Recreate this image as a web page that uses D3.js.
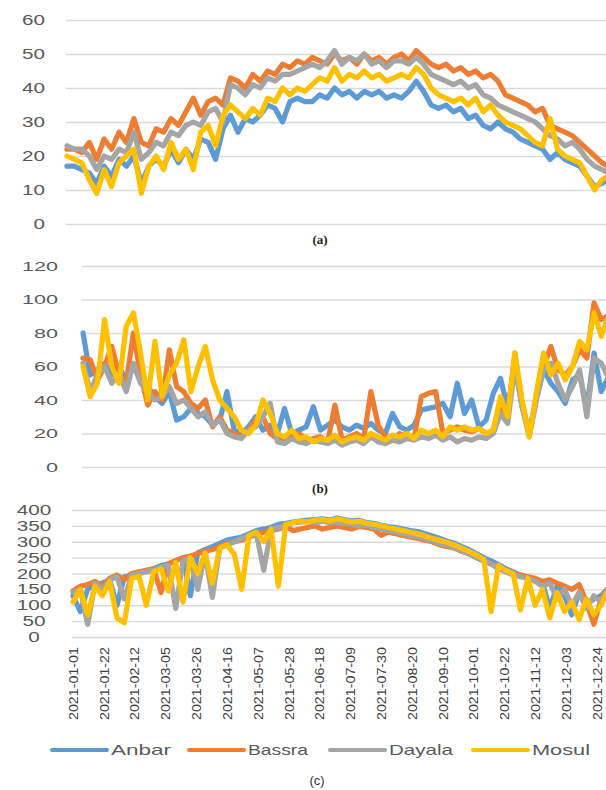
<!DOCTYPE html>
<html><head><meta charset="utf-8">
<script src="https://cdn.jsdelivr.net/npm/d3@7"></script>
<style>body{margin:0;background:#fff;}svg{display:block;}</style>
</head><body>
<svg id="chart" width="606" height="790"></svg>
<script>
const seriesNames = ["Anbar","Bassra","Dayala","Mosul"];
const colors = ["#5B9BD5","#ED7D31","#A5A5A5","#FFC000"];
const sampleDays = d3.range(0,365,5).concat([364]);

// Panel (a)
const aAnbar = [17,17,16,15,12,17,14,19,17,20, 12,17,19,17,22,18,22,19,25,24, 19,28,32,27,31,30,32,35,34,30, 36,37,36,36,38,37,40,38,39,37, 39,38,39,37,38,37,39,42,39,35, 34,35,33,34,31,32,29,28,30,28, 27,25,24,23,22,19,21,19,18,17, 14,11,12,13];
const aBassra = [22,22,21,24,19,25,22,27,24,31, 24,23,28,27,31,29,33,37,32,36, 37,35,43,42,40,44,42,45,44,47, 46,48,47,49,48,47,50,48,49,47, 50,48,49,47,49,50,48,51,49,47, 46,47,45,46,44,45,43,44,42,38, 37,36,35,33,34,29,28,27,26,24, 22,20,18,17];
const aDayala = [23,22,22,20,16,20,19,22,21,27, 19,21,24,23,27,26,29,30,29,33, 34,30,41,40,38,41,40,43,42,44, 44,45,46,47,46,48,51,47,49,48, 50,47,48,46,48,48,47,49,47,44, 43,42,41,42,40,41,38,37,35,34, 33,32,31,30,28,26,25,23,24,22, 19,17,16,15];
const aMosul = [20,19,18,13,9,16,11,18,20,22, 9,17,20,16,24,19,22,16,27,29, 23,32,35,33,31,34,32,37,36,40, 38,40,39,41,43,42,46,42,44,43, 45,43,44,42,43,44,43,46,44,40, 38,37,36,37,35,37,33,35,32,30, 29,28,26,24,23,31,22,20,19,18, 14,10,13,14];
const aTicks = [0,10,20,30,40,50,60];

// Panel (b)
const bAnbar = [80,55,58,62,55,60,52,60,52,48, 42,38,45,28,30,35,32,30,25,28, 45,22,20,24,30,22,25,20,35,20, 22,24,36,22,25,28,24,22,25,23, 26,22,20,32,24,22,25,34,35,36, 38,30,50,32,40,24,28,44,53,35, 62,36,20,42,58,50,45,38,52,55, 35,68,45,52];
const bBassra = [65,64,52,60,72,55,50,80,55,37, 45,40,70,48,45,38,35,40,24,30, 22,20,18,22,28,30,20,17,16,18, 20,16,17,18,15,37,16,18,20,17, 45,25,18,16,20,18,17,42,44,45, 20,22,24,22,21,23,20,22,36,30, 68,38,20,42,60,72,58,55,60,70, 65,98,88,90];
const bDayala = [62,45,55,60,50,56,45,62,50,45, 40,42,48,38,40,35,30,33,25,28, 20,18,17,22,24,30,38,15,14,17, 15,14,16,15,14,16,13,15,16,14, 18,15,14,16,15,17,16,18,17,19, 16,18,15,17,16,18,17,20,32,26, 60,36,18,40,58,62,50,40,48,58, 30,65,62,55];
const bMosul = [60,42,50,88,60,50,84,92,68,40, 75,42,55,62,76,45,60,72,52,40, 35,30,22,20,25,40,32,20,18,22, 17,18,15,17,16,19,15,17,18,16, 20,18,16,19,18,20,17,22,20,22, 18,24,22,24,22,23,20,22,42,30, 68,40,18,45,68,55,62,52,60,75, 70,92,78,88];
const bTicks = [0,20,40,60,80,100,120];

// Panel (c)
const cAnbar = [130,80,150,165,170,180,100,190,195,200, 208,215,225,230,240,250,130,265,275,285, 295,305,310,315,325,335,340,345,355,358, 362,365,368,370,372,368,375,370,365,368, 360,358,352,348,345,340,335,332,325,318, 310,302,295,285,275,262,250,240,228,215, 205,195,188,180,170,90,160,130,70,140, 100,120,130,150];
const cBassra = [145,160,165,175,160,185,195,180,200,205, 210,215,140,230,240,250,255,262,270,275, 285,295,300,305,315,322,330,335,340,348, 335,340,345,350,340,345,350,345,340,348, 345,340,320,330,325,320,315,310,305,300, 290,285,280,270,262,250,240,230,220,210, 200,195,190,185,175,180,170,160,150,165, 110,40,120,150];
const cDayala = [140,150,40,170,150,180,190,120,195,200, 205,210,220,225,90,240,250,150,265,125, 280,290,300,310,320,325,210,340,345,350, 360,362,365,360,365,360,362,358,355,350, 352,345,340,335,332,325,320,315,310,302, 295,290,280,272,262,250,240,230,215,205, 195,190,185,175,160,170,120,150,100,140, 90,130,110,150];
const cMosul = [110,150,70,160,130,175,60,45,185,190, 100,205,215,145,235,110,250,200,265,170, 280,290,260,150,320,330,300,340,160,355, 360,365,362,368,370,365,372,368,362,365, 358,355,350,345,340,335,330,325,318,310, 305,298,290,280,270,258,245,80,225,210, 200,85,185,100,150,60,140,80,110,55, 120,70,100,140];
const cTicks = [0,50,100,150,200,250,300,350,400];
const dateLabels = ["2021-01-01","2021-01-22","2021-02-12","2021-03-05","2021-03-26","2021-04-16","2021-05-07","2021-05-28","2021-06-18","2021-07-09","2021-07-30","2021-08-20","2021-09-10","2021-10-01","2021-10-22","2021-11-12","2021-12-03","2021-12-24"];
const panelLabels = ["(a)","(b)","(c)"];

const svg = d3.select("#chart");
svg.append("rect").attr("width",606).attr("height",790).attr("fill","#fff");
const defs = svg.append("defs");
defs.append("filter").attr("id","soft").append("feGaussianBlur").attr("stdDeviation",0.5);
const start = new Date(2021,0,1), end = new Date(2021,11,31);
const parse = d3.timeParse("%Y-%m-%d");

const panels = [
  {series:[aAnbar,aBassra,aDayala,aMosul], ticks:aTicks, yr:[224,20], xr:[67,608], gx:66, lab:{anchor:"end", x:45, w:11.5, fs:14}},
  {series:[bAnbar,bBassra,bDayala,bMosul], ticks:bTicks, yr:[467,266], xr:[83,607], gx:82, lab:{anchor:"end", x:58, w:12, fs:13}},
  {series:[cAnbar,cBassra,cDayala,cMosul], ticks:cTicks, yr:[637,510], xr:[73,607], gx:72, lab:{anchor:"middle", x:34, w:11.5, fs:14}}
];

panels.forEach((p,pi)=>{
  const x = d3.scaleTime().domain([start,end]).range(p.xr);
  const y = d3.scaleLinear().domain([0,d3.max(p.ticks)]).range(p.yr);
  const g = svg.append("g");
  const axis = d3.axisLeft(y).tickValues(p.ticks).tickSize(-(606-p.gx)).tickFormat("");
  const ga = g.append("g").attr("transform",`translate(${p.gx},0)`).call(axis);
  ga.select(".domain").remove();
  ga.selectAll(".tick line").attr("stroke","#d9d9d9").attr("stroke-width",1.3);
  g.selectAll("text.yl").data(p.ticks).join("text").attr("class","yl")
    .attr("x",p.lab.x).attr("y",d=>y(d)).attr("dy","0.36em")
    .attr("text-anchor",p.lab.anchor)
    .attr("font-family","'Liberation Sans', Arial, sans-serif").attr("font-size",p.lab.fs)
    .attr("fill","#595959")
    .attr("textLength",d=>String(d).length*p.lab.w).attr("lengthAdjust","spacingAndGlyphs")
    .text(d=>d);
  const clipId = "clip"+pi;
  defs.append("clipPath").attr("id",clipId).append("rect").attr("x",p.xr[0]-4).attr("y",p.yr[1]-10).attr("width",606).attr("height",p.yr[0]-p.yr[1]+16);
  const line = d3.line().x((d,i)=>x(d3.timeDay.offset(start,sampleDays[i]))).y(d=>y(d));
  const lg = g.append("g").attr("clip-path",`url(#${clipId})`).append("g").attr("filter","url(#soft)");
  p.series.forEach((s,si)=>{
    lg.append("path").datum(s).attr("d",line).attr("fill","none")
      .attr("stroke",colors[si]).attr("stroke-width",5.2)
      .attr("stroke-linejoin","round").attr("stroke-linecap","round");
  });
  if(pi===2){
    g.selectAll("text.xl").data(dateLabels).join("text").attr("class","xl")
      .attr("transform",d=>`translate(${x(parse(d))},647) rotate(-90)`)
      .attr("text-anchor","end").attr("dy","0.36em")
      .attr("font-family","'Liberation Sans', Arial, sans-serif").attr("font-size",13.5)
      .attr("fill","#404040").attr("textLength",73).attr("lengthAdjust","spacingAndGlyphs")
      .text(d=>d);
  }
});

svg.append("text").attr("x",320).attr("y",244).attr("text-anchor","middle")
  .attr("font-family","'Liberation Serif', serif").attr("font-weight","bold").attr("font-size",13).attr("fill","#222").text(panelLabels[0]);
svg.append("text").attr("x",320).attr("y",493).attr("text-anchor","middle")
  .attr("font-family","'Liberation Serif', serif").attr("font-weight","bold").attr("font-size",13).attr("fill","#222").text(panelLabels[1]);
svg.append("text").attr("x",317).attr("y",785).attr("text-anchor","middle")
  .attr("font-family","'Liberation Sans', sans-serif").attr("font-size",13).attr("fill","#333").text(panelLabels[2]);

const legX = [52,189,330,473];
const legW = [60,60,64,58];
const leg = svg.append("g");
seriesNames.forEach((n,i)=>{
  leg.append("line").attr("x1",legX[i]).attr("x2",legX[i]+55).attr("y1",750).attr("y2",750)
    .attr("stroke",colors[i]).attr("stroke-width",4).attr("stroke-linecap","round");
  leg.append("text").attr("x",legX[i]+59).attr("y",750).attr("dy","0.36em")
    .attr("font-family","'Liberation Sans', sans-serif").attr("font-size",15).attr("fill","#595959")
    .attr("textLength",legW[i]).attr("lengthAdjust","spacingAndGlyphs").text(n);
});
</script>
</body></html>
